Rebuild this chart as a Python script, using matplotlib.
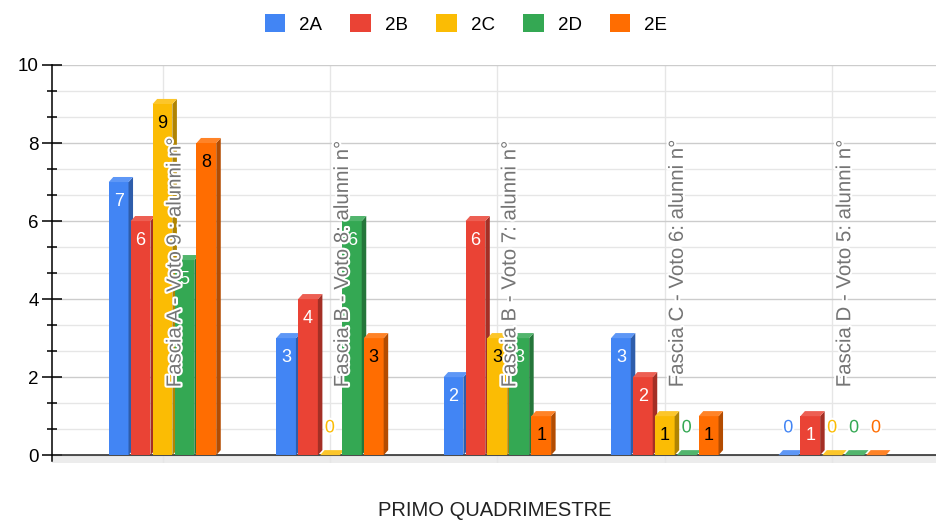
import matplotlib
matplotlib.use("Agg")
from matplotlib import pyplot as plt
from matplotlib.patches import Polygon, Patch
import matplotlib.patheffects as pe
from matplotlib.ticker import MultipleLocator
import numpy as np

plt.rcParams['font.family'] = ['Liberation Sans', 'DejaVu Sans']

categories = [
    "Fascia A - Voto 9 : alunni n°",
    "Fascia B - Voto 8: alunni n°",
    "Fascia B - Voto 7: alunni n°",
    "Fascia C - Voto 6: alunni n°",
    "Fascia D - Voto 5: alunni n°",
]
classes = ["2A", "2B", "2C", "2D", "2E"]
val_2a = [7, 3, 2, 3, 0]
val_2b = [6, 4, 6, 2, 1]
val_2c = [9, 0, 3, 1, 0]
val_2d = [5, 6, 3, 0, 0]
val_2e = [8, 3, 1, 1, 0]
series = [val_2a, val_2b, val_2c, val_2d, val_2e]

colors = ['#4285F4', '#EA4335', '#FBBC04', '#34A853', '#FF6D01']
label_colors = ['white', 'white', 'black', 'white', 'black']


def shade(c, f):
    rgb = np.array(matplotlib.colors.to_rgb(c))
    return tuple(rgb * f)


def tint(c, f):
    rgb = np.array(matplotlib.colors.to_rgb(c))
    return tuple(rgb + (1 - rgb) * f)


fig = plt.figure(figsize=(9.36, 5.2), dpi=100)
# y = 10 sits at 65 px from the top, y = -0.2 at 463 px
ax = fig.add_axes([52 / 936, (520 - 463) / 520, 884 / 936, (463 - 65) / 520])

x = np.arange(len(categories))
w = 0.118          # bar width (data units)
step = 0.131       # distance between bars in a group
dx, dy = 0.027, 0.13   # fake 3D depth

ax.set_xlim(-0.66, 4.62)
ax.set_ylim(-0.2, 10)

# floor band and baseline
ax.axhspan(-0.2, 0, color='#ececec', zorder=0, lw=0)
ax.axhline(0, color='#333333', lw=1.2, zorder=1)

halo = [pe.withStroke(linewidth=3, foreground='white')]

for i, vals in enumerate(series):
    c = colors[i]
    for j, v in enumerate(vals):
        x0 = x[j] + (i - 2) * step - w / 2
        if v > 0:
            ax.add_patch(Polygon([(x0, 0), (x0 + w, 0), (x0 + w, v), (x0, v)],
                                 closed=True, fc=c, ec='none', zorder=3))
            ax.add_patch(Polygon([(x0 + w, 0), (x0 + w + dx, dy), (x0 + w + dx, v + dy), (x0 + w, v)],
                                 closed=True, fc=shade(c, 0.7), ec='none', zorder=3))
        ax.add_patch(Polygon([(x0, v), (x0 + w, v), (x0 + w + dx, v + dy), (x0 + dx, v + dy)],
                             closed=True, fc=tint(c, 0.15), ec='none', zorder=3))
        if v > 0:
            ax.text(x0 + w / 2, v - 0.5, str(v), ha='center', va='center',
                    fontsize=13, color=label_colors[i], zorder=5)
        else:
            ax.text(x0 + w / 2, 0.7, str(v), ha='center', va='center',
                    fontsize=13, color=c, zorder=5, path_effects=halo)

# category labels drawn inside the plot, rotated
for j, cat in enumerate(categories):
    ax.text(x[j] + 0.075, 1.74, cat, rotation=90, ha='center', va='bottom',
            fontsize=14.7, color='#757575', zorder=6, path_effects=halo)

ax.yaxis.set_major_locator(MultipleLocator(2))
ax.yaxis.set_minor_locator(MultipleLocator(2 / 3))
ax.set_xticks(x)
ax.set_xticklabels([])
ax.tick_params(axis='x', length=0)
ax.grid(axis='y', which='major', color='#cccccc', lw=1, zorder=0)
ax.grid(axis='y', which='minor', color='#e6e6e6', lw=1, zorder=0)
ax.grid(axis='x', which='major', color='#e6e6e6', lw=1, zorder=0)
ax.set_axisbelow(True)
ax.tick_params(axis='y', which='major', direction='inout', length=15, width=1.1,
               labelsize=13.5, pad=2, color='black')
ax.tick_params(axis='y', which='minor', direction='inout', length=6.5, width=1.1, color='black')

for s in ['top', 'right', 'bottom']:
    ax.spines[s].set_visible(False)
ax.spines['left'].set_color('black')
ax.spines['left'].set_linewidth(1.1)
ax.spines['left'].set_bounds(-0.15, 10)

handles = [Patch(facecolor=c, label=k) for c, k in zip(colors, classes)]
fig.legend(handles=handles, loc='center', bbox_to_anchor=(466 / 936, 1 - 24 / 520), ncol=5,
           frameon=False, fontsize=13.5, handlelength=1.1, handleheight=1.1,
           handletextpad=0.75, columnspacing=1.5)

fig.text(495 / 936, 1 - 511 / 520, "PRIMO QUADRIMESTRE", ha='center', va='center',
         fontsize=14.5, color='#222222')

fig.savefig("out.png", dpi=100)
